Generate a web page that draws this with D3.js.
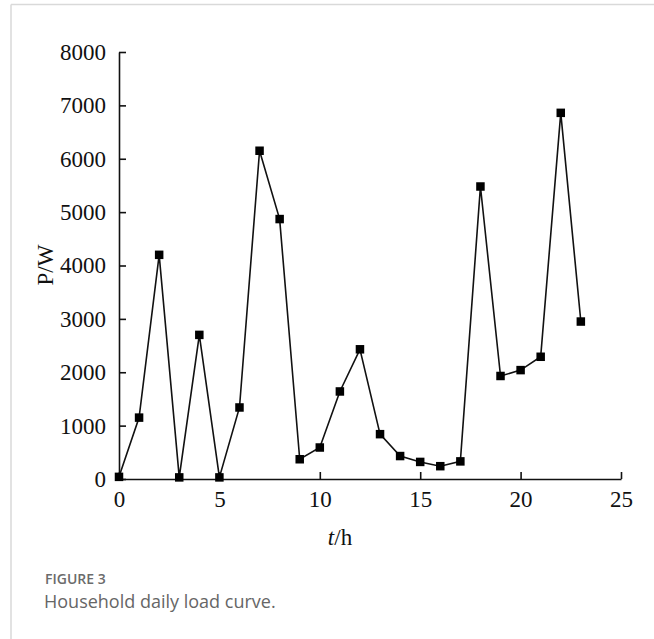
<!DOCTYPE html>
<html>
<head>
<meta charset="utf-8">
<script src="https://cdn.jsdelivr.net/npm/d3@7"></script>
<style>
  body { margin: 0; background: #fff; }
  svg { display: block; }
</style>
</head>
<body>
<div id="chart"></div>
<script>
var width = 654,
    height = 639;

// hour of day and household load (W)
var hours = [0, 1, 2, 3, 4, 5, 6, 7, 8, 9, 10, 11, 12, 13, 14, 15, 16, 17, 18, 19, 20, 21, 22, 23];
var load = [40, 1150, 4200, 30, 2700, 30, 1340, 6150, 4870, 370, 590, 1640, 2430, 840, 430, 320, 240, 330, 5480, 1930, 2040, 2290, 6860, 2950];
var xTicks = [0, 5, 10, 15, 20, 25];
var yTicks = [0, 1000, 2000, 3000, 4000, 5000, 6000, 7000, 8000];

var svg = d3.select("#chart").append("svg")
    .attr("width", width)
    .attr("height", height);

// card border (top and left)
svg.append("line")
    .attr("x1", 11).attr("x2", width).attr("y1", 4.5).attr("y2", 4.5)
    .style("stroke", "#d9d9d9").style("stroke-width", 1.5);
svg.append("line")
    .attr("x1", 11).attr("x2", 11).attr("y1", 4.5).attr("y2", height)
    .style("stroke", "#d9d9d9").style("stroke-width", 1.5);

var x = d3.scaleLinear().domain([0, 25]).range([119, 621]);
var y = d3.scaleLinear().domain([0, 8000]).range([479, 52]);

var xAxis = svg.append("g")
    .attr("transform", "translate(0," + y(0) + ")")
    .call(d3.axisBottom(x).tickValues(xTicks).tickSizeInner(-7).tickSizeOuter(0).tickPadding(12));

var yAxis = svg.append("g")
    .attr("transform", "translate(" + x(0) + ",0)")
    .call(d3.axisLeft(y).tickValues(yTicks).tickFormat(d3.format("d"))
      .tickSizeInner(-7).tickSizeOuter(0).tickPadding(13));

[xAxis, yAxis].forEach(function(g){
  g.selectAll("path, line").style("stroke", "#111").style("stroke-width", 1.6);
  g.selectAll("text")
    .style("font-family", "'Liberation Serif', 'Times New Roman', serif")
    .style("font-size", "23px")
    .style("fill", "#111");
});

var line = d3.line()
    .x(function(d, i){ return x(hours[i]); })
    .y(function(d){ return y(d); });

svg.append("path")
    .datum(load)
    .attr("d", line)
    .style("fill", "none")
    .style("stroke", "#111")
    .style("stroke-width", 1.6);

var m = 8.5;
svg.selectAll("rect.pt")
    .data(load)
  .enter().append("rect")
    .attr("class", "pt")
    .attr("x", function(d, i){ return x(hours[i]) - m / 2; })
    .attr("y", function(d){ return y(d) - m / 2; })
    .attr("width", m)
    .attr("height", m)
    .style("fill", "#000");

// axis titles
svg.append("text")
    .attr("transform", "translate(53,265) rotate(-90)")
    .attr("text-anchor", "middle")
    .style("font-family", "'Liberation Serif', serif")
    .style("font-size", "23px")
    .style("fill", "#111")
    .text("P/W");

var xt = svg.append("text")
    .attr("x", 340)
    .attr("y", 545)
    .attr("text-anchor", "middle")
    .style("font-family", "'Liberation Serif', serif")
    .style("font-size", "23px")
    .style("fill", "#111");
xt.append("tspan").style("font-style", "italic").text("t");
xt.append("tspan").text("/h");

// caption
svg.append("text")
    .attr("x", 45)
    .attr("y", 584)
    .style("font-family", "'Open Sans', sans-serif")
    .style("font-size", "14px")
    .style("font-weight", 600)
    .style("fill", "#6b6b6b")
    .text("FIGURE 3");

svg.append("text")
    .attr("x", 44)
    .attr("y", 608)
    .style("font-family", "'Open Sans', sans-serif")
    .style("font-size", "18px")
    .style("fill", "#666")
    .text("Household daily load curve.");
</script>
</body>
</html>
